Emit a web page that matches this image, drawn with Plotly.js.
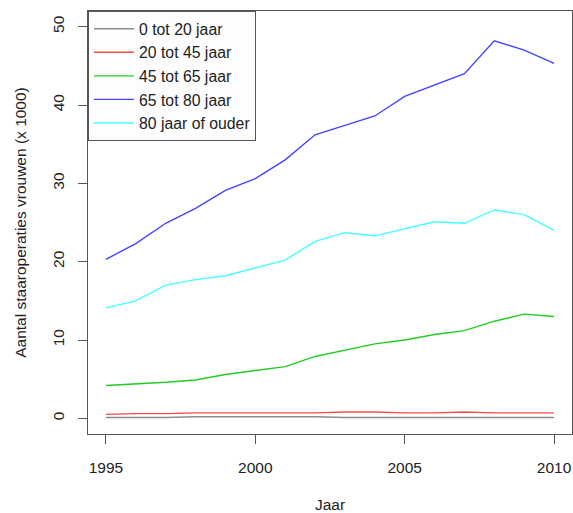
<!DOCTYPE html>
<html>
<head>
<meta charset="utf-8">
<script src="https://cdn.plot.ly/plotly-3.0.1.min.js"></script>
<style>html,body{margin:0;padding:0;background:#fff;}#chart{width:573px;height:513px;}</style>
</head>
<body>
<div id="chart"></div>
<script>
var years = [1995,1996,1997,1998,1999,2000,2001,2002,2003,2004,2005,2006,2007,2008,2009,2010];
var seriesNames = ["0 tot 20 jaar","20 tot 45 jaar","45 tot 65 jaar","65 tot 80 jaar","80 jaar of ouder"];
var age0_20  = [0.1,0.1,0.1,0.2,0.2,0.2,0.2,0.2,0.1,0.1,0.1,0.1,0.1,0.1,0.1,0.1];
var age20_45 = [0.5,0.6,0.6,0.7,0.7,0.7,0.7,0.7,0.8,0.8,0.7,0.7,0.8,0.7,0.7,0.7];
var age45_65 = [4.2,4.4,4.6,4.9,5.6,6.1,6.6,7.9,8.7,9.5,10.0,10.7,11.2,12.4,13.3,13.0];
var age65_80 = [20.3,22.3,24.9,26.8,29.1,30.6,33.0,36.2,37.4,38.6,41.1,42.6,44.0,48.2,47.0,45.3];
var age80plus= [14.1,15.0,17.0,17.7,18.2,19.2,20.2,22.6,23.7,23.3,24.2,25.1,24.9,26.6,26.0,24.0];
var colors = ["#8c8c8c","#ff4a4a","#22cc22","#4444ff","#44ffff"];
var allSeries = [age0_20, age20_45, age45_65, age65_80, age80plus];

var traces = allSeries.map(function(s, i){
  return {x: years, y: s, type: 'scatter', mode: 'lines', name: seriesNames[i],
          line: {color: colors[i], width: 1.4}};
});

var font = {family: 'Liberation Sans, Arial, sans-serif', size: 15.5, color: '#222'};
var layout = {
  width: 573, height: 513,
  margin: {l: 88, r: 1, t: 11, b: 79},
  paper_bgcolor: '#fff', plot_bgcolor: '#fff',
  font: font,
  showlegend: true,
  legend: {x: 0, y: 1, xanchor: 'left', yanchor: 'top', bgcolor: '#fdfdfd',
           bordercolor: '#555', borderwidth: 1, font: {family: font.family, size: 15.8, color: '#222'},
           itemwidth: 40, tracegroupgap: 0},
  xaxis: {range: [1994.4, 2010.6], tickvals: [1995,2000,2005,2010], ticktext: ['1995','2000','2005','2010'],
          showgrid: false, zeroline: false, showline: true, mirror: true, linecolor: '#555', linewidth: 1,
          ticks: 'outside', ticklen: 9, tickcolor: '#555', ticklabelstandoff: 10,
          title: {text: 'Jaar', font: {family: font.family, size: 15.5, color: '#222'}, standoff: 25}},
  yaxis: {range: [-2, 52], tickvals: [0,10,20,30,40,50], ticktext: ['0','10','20','30','40','50'],
          tickangle: -90,
          showgrid: false, zeroline: false, showline: true, mirror: true, linecolor: '#555', linewidth: 1,
          ticks: 'outside', ticklen: 9, tickcolor: '#555', ticklabelstandoff: 8,
          title: {text: 'Aantal staaroperaties vrouwen (x 1000)', font: {family: font.family, size: 15.5, color: '#222'}, standoff: 19}}
};
Plotly.newPlot('chart', traces, layout, {displayModeBar: false, staticPlot: true});
</script>
</body>
</html>
